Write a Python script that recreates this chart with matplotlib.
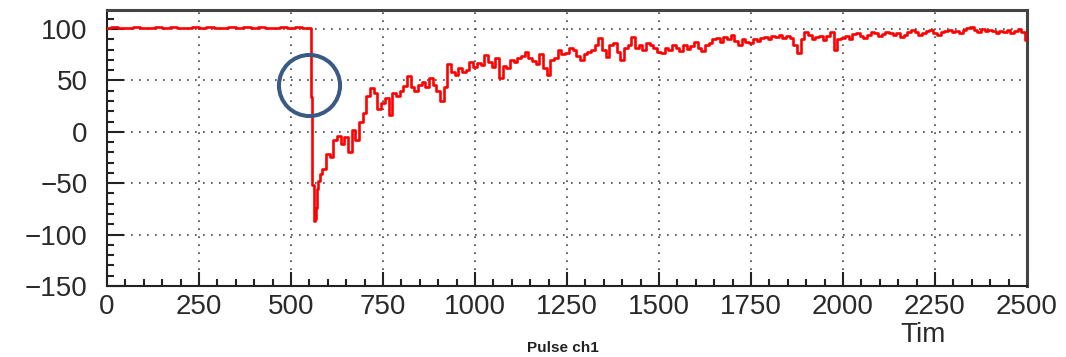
import numpy as np
import matplotlib
matplotlib.use("Agg")
import matplotlib.pyplot as plt
from matplotlib.ticker import MultipleLocator

# baseline before the pulse (ADC counts)
flat_time = [0, 20, 40, 60, 80, 100, 120, 140, 160, 180, 200, 220, 240, 260,
             280, 300, 320, 340, 360, 380, 400, 420, 440, 460, 480, 500, 520, 540]
flat_amp = [101, 102, 101, 101, 102, 101, 101, 102, 101, 102, 101, 101, 102, 101,
            102, 101, 101, 102, 101, 102, 101, 102, 101, 101, 102, 101, 102, 101]

# fast drop around the trigger
drop_time = [552, 556, 560, 563, 566, 569, 572, 576]
drop_amp = [101, 34, -52, -87, -85, -74, -56, -48]

# slow recovery, one sample every 10 ticks starting at 580
recovery_start = 580
recovery_amp = [
    -41, -36, -22, -25, -8, -4, -12, -5, -20, 2,
    -8, 10, 18, 35, 43, 38, 22, 28, 33, 16,
    38, 35, 40, 45, 54, 44, 40, 46, 48, 44,
    52, 46, 40, 30, 44, 66, 58, 55, 62, 58,
    60, 68, 63, 67, 65, 75, 68, 63, 72, 52,
    64, 62, 70, 68, 72, 74, 78, 72, 69, 66,
    76, 62, 55, 70, 72, 80, 76, 77, 82, 80,
    74, 70, 76, 78, 80, 84, 91, 80, 73, 84,
    86, 78, 70, 82, 84, 92, 82, 84, 80, 86,
    84, 82, 78, 77, 82, 80, 84, 82, 79, 84,
    81, 83, 87, 82, 79, 84, 86, 90, 91, 87,
    92, 90, 94, 88, 84, 90, 87, 86, 90, 88,
    91, 92, 90, 93, 92, 94, 91, 93, 91, 84,
    77, 90, 97, 94, 90, 92, 93, 89, 93, 97,
    80, 90, 91, 93, 90, 95, 96, 93, 91, 94,
    97, 96, 93, 95, 97, 96, 94, 96, 92, 94,
    97, 99, 97, 94, 96, 98, 99, 96, 94, 97,
    98, 99, 97, 98, 96, 99, 101, 102, 99, 97,
    100, 98, 99, 98, 96, 98, 97, 99, 96, 98,
    100, 97, 89,
]
recovery_time = list(recovery_start + 10 * np.arange(len(recovery_amp)))

x_ticks = [0, 250, 500, 750, 1000, 1250, 1500, 1750, 2000, 2250, 2500]
y_ticks = [-150, -100, -50, 0, 50, 100]

# highlighted point (the step on the falling edge)
mark_t, mark_v = 550, 45.5

plt.rcParams["font.family"] = ["Liberation Sans", "DejaVu Sans"]

fig = plt.figure(figsize=(10.66, 3.57), dpi=100)
ax = fig.add_axes([0.1004, 0.199, 0.863, 0.773])

t = np.concatenate([flat_time, drop_time, recovery_time])
v = np.concatenate([flat_amp, drop_amp, recovery_amp])
ax.plot(t, v, color="#ff0000", lw=1.9, drawstyle="steps-mid", zorder=3)

ax.plot(mark_t, mark_v, marker="o", ms=44, mfc="none", mec="#3a5a86",
        mew=2.9, zorder=4)

ax.set_xlim(0, 2500)
ax.set_ylim(-150, 118.5)
ax.set_xticks(x_ticks)
ax.set_yticks(y_ticks)
ax.xaxis.set_minor_locator(MultipleLocator(50))
ax.yaxis.set_minor_locator(MultipleLocator(10))

ax.grid(True, which="major", color="#444444", lw=1.2,
        linestyle=(0, (1, 3.8)), zorder=1)

ax.tick_params(which="both", direction="in", top=False, right=False,
               width=1.5, color="#222222", labelcolor="#2a2a2a")
ax.tick_params(axis="y", which="major", length=12, pad=14, labelsize=20)
ax.tick_params(axis="y", which="minor", length=5)
ax.tick_params(axis="x", which="major", length=10, pad=6, labelsize=20)
ax.tick_params(axis="x", which="minor", length=5)

for side in ("left", "bottom"):
    ax.spines[side].set_linewidth(1.5)
    ax.spines[side].set_color("#222222")
for side in ("top", "right"):
    ax.spines[side].set_linewidth(2.2)
    ax.spines[side].set_color("#444444")

fig.text(923 / 1066, 1 - 342 / 357, "Tim", ha="center", va="baseline",
         fontsize=20, color="#2a2a2a")
fig.text(563 / 1066, 1 - 348 / 357, "Pulse ch1", ha="center", va="center",
         fontsize=11, fontweight="bold", color="#222222")

fig.savefig("out.png", dpi=100)
